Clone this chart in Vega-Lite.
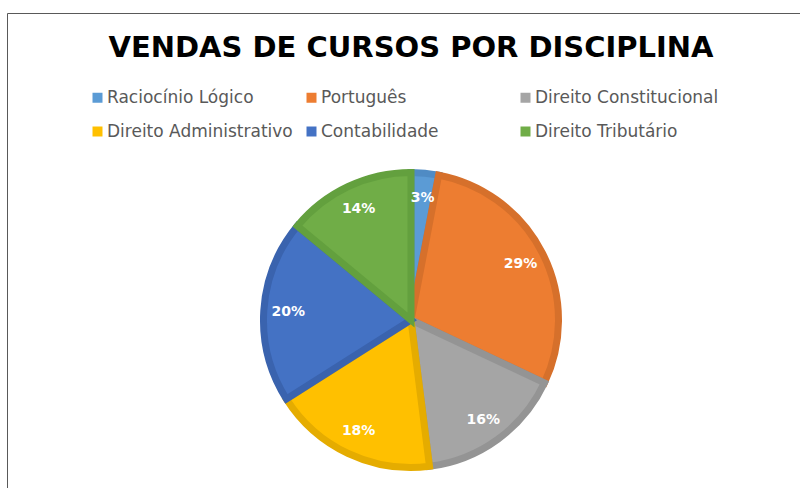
{
  "$schema": "https://vega.github.io/schema/vega-lite/v6.json",
  "width": 808,
  "height": 614,
  "autosize": "none",
  "padding": {"left": 7, "top": 13, "right": 0, "bottom": 0},
  "background": "#ffffff",
  "view": {"stroke": "#595959", "strokeWidth": 1},
  "title": {
    "text": "VENDAS DE CURSOS POR DISCIPLINA",
    "font": "DejaVu Sans",
    "fontWeight": "bold",
    "fontSize": 29,
    "color": "#000000",
    "anchor": "middle",
    "frame": "group",
    "baseline": "alphabetic",
    "offset": -73
  },
  "data": {
    "values": [
      {"disciplina": "Raciocínio Lógico", "ordem": 1, "valor": 0.03},
      {"disciplina": "Português", "ordem": 2, "valor": 0.29},
      {"disciplina": "Direito Constitucional", "ordem": 3, "valor": 0.16},
      {"disciplina": "Direito Administrativo", "ordem": 4, "valor": 0.18},
      {"disciplina": "Contabilidade", "ordem": 5, "valor": 0.20},
      {"disciplina": "Direito Tributário", "ordem": 6, "valor": 0.14}
    ]
  },
  "encoding": {
    "theta": {"field": "valor", "type": "quantitative", "stack": true},
    "order": {"field": "ordem", "type": "quantitative"}
  },
  "layer": [
    {
      "mark": {"type": "arc", "outerRadius": 147.5, "strokeWidth": 7},
      "encoding": {
        "color": {
          "field": "disciplina",
          "type": "nominal",
          "sort": ["Raciocínio Lógico", "Português", "Direito Constitucional", "Direito Administrativo", "Contabilidade", "Direito Tributário"],
          "scale": {
            "domain": ["Raciocínio Lógico", "Português", "Direito Constitucional", "Direito Administrativo", "Contabilidade", "Direito Tributário"],
            "range": ["#5B9BD5", "#ED7D31", "#A5A5A5", "#FFC000", "#4472C4", "#70AD47"]
          },
          "legend": {
            "title": null,
            "orient": "none",
            "direction": "horizontal",
            "legendX": 82,
            "legendY": 76,
            "columns": 3,
            "gridAlign": "all",
            "columnPadding": 10,
            "rowPadding": 16,
            "padding": 0,
            "symbolType": "square",
            "symbolSize": 100,
            "symbolStrokeWidth": 0,
            "labelFont": "DejaVu Sans",
            "labelFontSize": 17,
            "labelColor": "#595959",
            "labelOffset": 1,
            "labelLimit": 400
          }
        },
        "stroke": {
          "field": "disciplina",
          "type": "nominal",
          "scale": {
            "domain": ["Raciocínio Lógico", "Português", "Direito Constitucional", "Direito Administrativo", "Contabilidade", "Direito Tributário"],
            "range": ["#4F8BC4", "#D6702B", "#949494", "#E5AC00", "#3A63AE", "#63A03E"]
          },
          "legend": null
        }
      }
    },
    {
      "mark": {"type": "text", "radius": 123, "font": "DejaVu Sans", "fontWeight": "bold", "fontSize": 14, "fill": "#ffffff"},
      "encoding": {
        "text": {"field": "valor", "type": "quantitative", "format": ".0%"}
      }
    }
  ]
}
